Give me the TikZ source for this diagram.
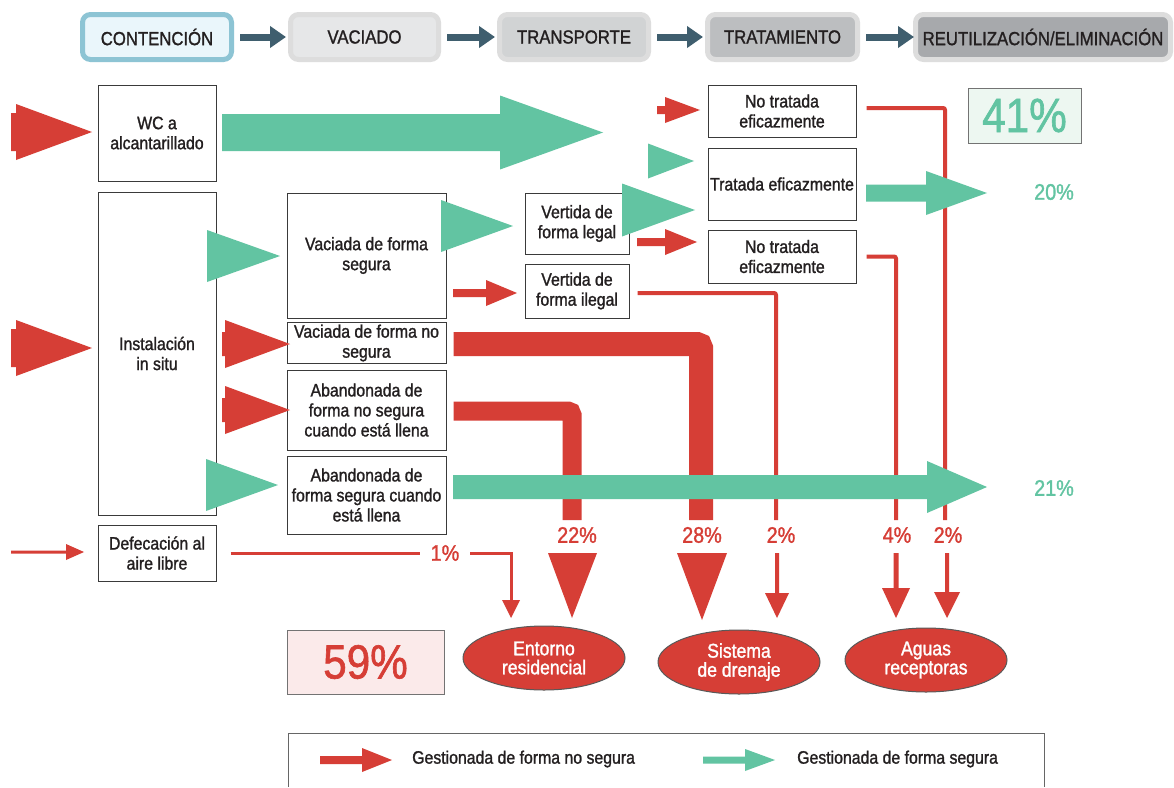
\documentclass[tikz,border=0pt]{standalone}
\usepackage{fontspec}
\setmainfont{Liberation Sans}[FakeStretch=0.88,FakeBold=1.3]
\usetikzlibrary{shapes.geometric,arrows.meta}
\definecolor{rd}{HTML}{D63E36}
\definecolor{gr}{HTML}{62C4A2}
\definecolor{tx}{HTML}{231F20}
\definecolor{hdarrow}{HTML}{3F5E6E}
\definecolor{bxline}{HTML}{3A3A3A}
\definecolor{HdBlue}{HTML}{8DC4D4}
\definecolor{HdBlueF}{HTML}{EAF6FB}
\definecolor{HdGray}{HTML}{DDDDDD}
\definecolor{HdF2}{HTML}{E6E7E8}
\definecolor{HdF3}{HTML}{D1D3D4}
\definecolor{HdF4}{HTML}{BCBEC0}
\definecolor{HdF5}{HTML}{A7A9AC}
\definecolor{grF}{HTML}{EDF7F1}
\definecolor{rdF}{HTML}{FBEAEA}
\newcommand\myharr[7]{\fill[#1] (#2,{#5-#6}) -- (#3,{#5-#6}) -- (#3,{#5-#7}) -- (#4,#5) -- (#3,{#5+#7}) -- (#3,{#5+#6}) -- (#2,{#5+#6}) -- cycle;}
\newcommand\mytri[5]{\fill[#1] (#2,{#4-#5}) -- (#3,#4) -- (#2,{#4+#5}) -- cycle;}
\newcommand\myvarr[7]{\fill[#1] ({#2-#6},#3) -- ({#2-#6},#4) -- ({#2-#7},#4) -- (#2,#5) -- ({#2+#7},#4) -- ({#2+#6},#4) -- ({#2+#6},#3) -- cycle;}
\begin{document}
\begin{tikzpicture}[x=1pt,y=-1pt,
  hd/.style={rounded corners=8pt, line width=5pt, draw=#1, minimum height=45pt, text=tx,
     font=\fontsize{19}{20}\selectfont, inner sep=0pt},
  hdarr/.style={hdarrow, line width=7pt, -{Triangle[length=16pt,width=21pt]}},
  bx/.style={draw=bxline, line width=1pt, fill=white, align=center, text=tx, inner sep=2pt,
     font=\fontsize{18}{20}\selectfont},
  pct/.style={font=\fontsize{22.5}{23}\selectfont, inner sep=1pt},
  ell/.style={ellipse, draw=black!65, line width=1pt, fill=rd, text=white, align=center,
     minimum width=162pt, minimum height=64pt, inner sep=0pt, font=\fontsize{20}{19}\selectfont},
  big/.style={draw=black!55, line width=1pt, font=\fontsize{48}{48}\selectfont, inner sep=0pt},
  lg/.style={font=\fontsize{18}{20}\selectfont, text=tx, anchor=west, inner sep=0pt}
]
\useasboundingbox (0,0) rectangle (1174,787);
\fill[white] (0,0) rectangle (1174,787);

% ---------- header ----------
\node[hd=HdBlue, fill=HdBlueF, minimum width=149pt] (h1) at (157,37) {CONTENCIÓN};
\node[hd=HdGray, fill=HdF2, minimum width=148pt] (h2) at (364.5,37) {VACIADO};
\node[hd=HdGray, fill=HdF3, minimum width=149pt] (h3) at (574,37) {TRANSPORTE};
\node[hd=HdGray, fill=HdF4, minimum width=150pt] (h4) at (782.5,37) {TRATAMIENTO};
\node[hd=HdGray, fill=HdF5, minimum width=255pt] (h5) at (1043,37) {REUTILIZACIÓN/ELIMINACIÓN};
\draw[hdarr] ([xshift=6pt]h1.east) -- ([xshift=-2pt]h2.west);
\draw[hdarr] ([xshift=6pt]h2.east) -- ([xshift=-2pt]h3.west);
\draw[hdarr] ([xshift=6pt]h3.east) -- ([xshift=-2pt]h4.west);
\draw[hdarr] ([xshift=6pt]h4.east) -- ([xshift=1pt]h5.west);

% ---------- boxes ----------
\node[bx, minimum width=118pt, minimum height=96pt] (wc) at (157,133) {WC a\\alcantarillado};
\node[bx, minimum width=118pt, minimum height=323pt] (insitu) at (157,353.5) {Instalación\\in situ};
\node[bx, minimum width=118pt, minimum height=56pt] (defec) at (157,553) {Defecación al\\aire libre};
\node[bx, minimum width=159pt, minimum height=125pt] (vseg) at (366.5,255.5) {Vaciada de forma\\segura};
\node[bx, minimum width=159pt, minimum height=40pt] (vnoseg) at (366.5,343) {Vaciada de forma no\\segura};
\node[bx, minimum width=159pt, minimum height=80pt] (abnoseg) at (366.5,410) {Abandonada de\\forma no segura\\cuando está llena};
\node[bx, minimum width=159pt, minimum height=78pt] (abseg) at (366.5,495) {Abandonada de\\forma segura cuando\\está llena};
\node[bx, minimum width=104pt, minimum height=61pt] (vlegal) at (577,223.5) {Vertida de\\forma legal};
\node[bx, minimum width=104pt, minimum height=54pt] (vilegal) at (577,291) {Vertida de\\forma ilegal};
\node[bx, minimum width=148pt, minimum height=52pt] (nt1) at (782,111) {No tratada\\eficazmente};
\node[bx, minimum width=148pt, minimum height=72pt] (trat) at (782,184) {Tratada eficazmente};
\node[bx, minimum width=148pt, minimum height=53pt] (nt2) at (782,256.5) {No tratada\\eficazmente};
\node[big, fill=grF, text=gr, minimum width=113pt, minimum height=55pt] (p41) at (1024.5,115.5) {41\%};
\node[big, fill=rdF, text=rd, minimum width=157pt, minimum height=64pt] (p59) at (365.5,662) {59\%};

% ---------- ellipses ----------
\node[ell] (ent) at (544,658) {Entorno\\residencial};
\node[ell] (dren) at (739,662) {Sistema\\de drenaje};
\node[ell] (aguas) at (926,660) {Aguas\\receptoras};

% ---------- red flows (under green) ----------
\draw[rd, line width=24pt, rounded corners=4pt] ([xshift=7pt]vnoseg.east |- 0,344) -- (701,344) -- (701,520);
\draw[rd, line width=19pt, rounded corners=4pt] ([xshift=7pt]abnoseg.east |- 0,411) -- (572,411) -- (572,520);
\draw[rd, line width=4pt, rounded corners=2pt] ([xshift=10pt]nt1.east |- 0,108) -- (945,108) -- (945,520);
\draw[rd, line width=4pt, rounded corners=2pt] ([xshift=10pt]nt2.east) -- (896,256.5) -- (896,520);
\draw[rd, line width=4pt, rounded corners=2pt] ([xshift=8pt]vilegal.east |- 0,293) -- (776,293) -- (776,520);
\draw[rd, line width=3pt] ([xshift=14pt]defec.east) -- (420,553);
\draw[rd, line width=3pt] (470,553) -- (511,553) -- (511,602);
\myvarr{rd}{511}{600}{600}{618}{1.5}{9}

% percent labels
\node[pct, text=rd] (l1) at (445,553) {1\%};
\node[pct, text=rd] (l22) at (577,535) {22\%};
\node[pct, text=rd] (l28) at (702,535) {28\%};
\node[pct, text=rd] (l2a) at (781,535) {2\%};
\node[pct, text=rd] (l4) at (897,535) {4\%};
\node[pct, text=rd] (l2b) at (948,535) {2\%};
\node[pct, text=gr] (l20) at (1054,192) {20\%};
\node[pct, text=gr] (l21) at (1054,488) {21\%};

% red down arrows into ellipses
\fill[rd] (548,553) -- (597,553) -- (572,618) -- cycle;
\fill[rd] (677,553) -- (727,553) -- (702,620) -- cycle;
\myvarr{rd}{777}{553}{593}{618}{2}{12}
\myvarr{rd}{896}{553}{588}{618}{2.5}{14}
\myvarr{rd}{947}{553}{592}{618}{2}{13}

% red input arrows
\myharr{rd}{11}{16}{92}{132}{19}{28}
\myharr{rd}{11}{16}{92}{348}{19}{28}
\myharr{rd}{11}{66}{84}{552}{1.5}{8}
\myharr{rd}{222}{225}{290}{344}{12}{24}
\myharr{rd}{222}{225}{290}{410}{12}{24}
\myharr{rd}{657}{665}{700}{110}{4}{13}
\myharr{rd}{453}{486}{517}{293}{4}{13}
\myharr{rd}{637}{665}{697}{242}{4}{13}

% ---------- green flows ----------
\myharr{gr}{222}{500}{603}{132.5}{18.5}{37}
\mytri{gr}{207}{280}{256}{26}
\mytri{gr}{206}{278}{485}{26}
\mytri{gr}{441}{513}{226}{26}
\mytri{gr}{622}{695}{210}{26.5}
\mytri{gr}{648}{694}{161}{17.5}
\myharr{gr}{866}{926}{987}{193}{8.5}{22}
\myharr{gr}{453}{927}{987}{487}{12}{26}

% ---------- legend ----------
\draw[black!60, line width=1pt] (288,787) -- (288,733) -- (1044,733) -- (1044,787);
\myharr{rd}{320}{362}{392}{760}{4}{12}
\node[lg] (lgr) at (412,759) {Gestionada de forma no segura};
\myharr{gr}{703}{745}{775}{760}{3.5}{11}
\node[lg] (lgg) at (797,759) {Gestionada de forma segura};
\end{tikzpicture}
\end{document}
